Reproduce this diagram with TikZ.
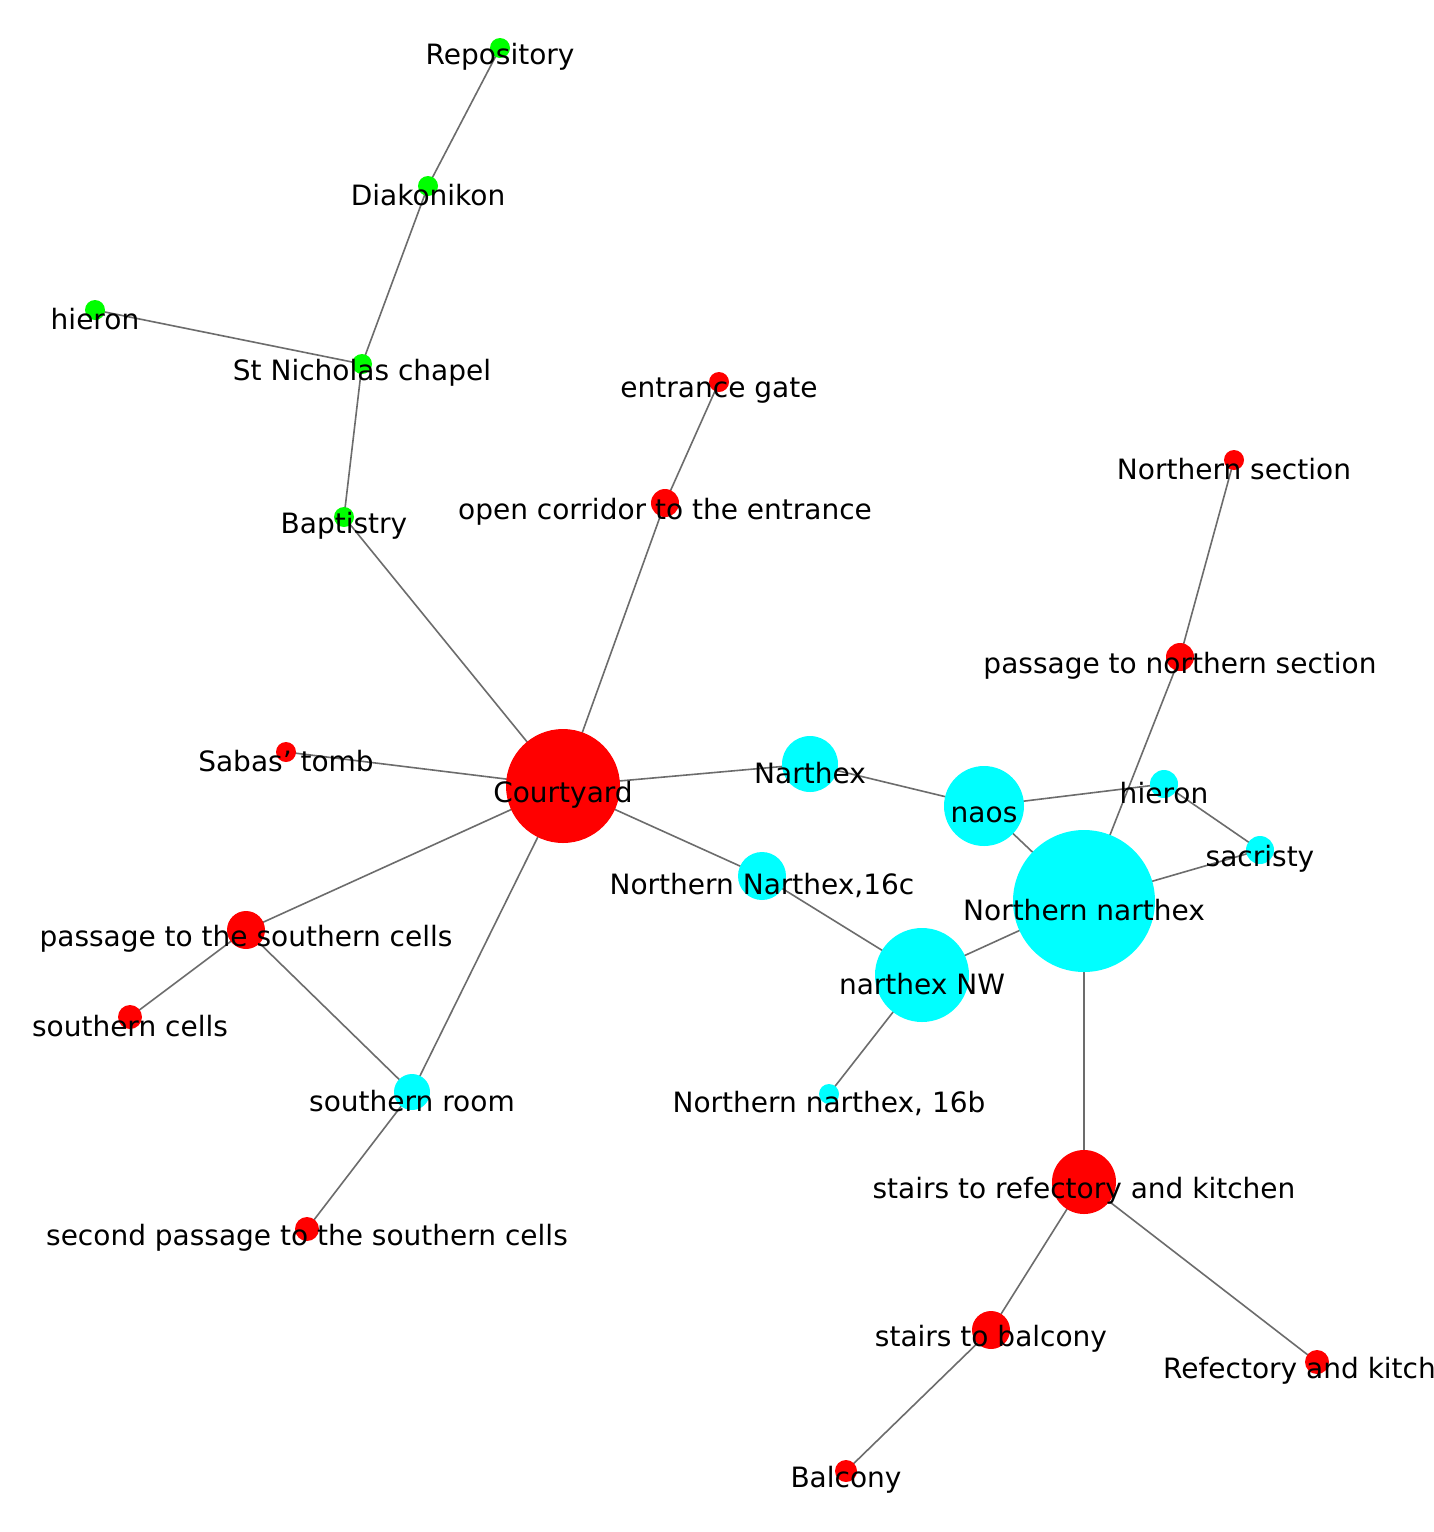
\documentclass[tikz,border=0pt]{standalone}
\usepackage{fontspec}
\setmainfont{DejaVu Sans}
\definecolor{aqua}{RGB}{0,255,255}
\definecolor{lime}{RGB}{0,255,0}
\definecolor{rr}{RGB}{255,0,0}
\begin{document}
\begin{tikzpicture}[x=1pt,y=-1pt,
  v/.style={circle,inner sep=0pt,minimum size=#1},
  red/.style={fill=rr},cy/.style={fill=aqua},gr/.style={fill=lime},
  e/.style={draw=gray!85!black,line width=1.6pt},
  lab/.style={font=\fontsize{28}{30}\selectfont,text=black,inner sep=0pt}]
\clip (0,0) rectangle (1433,1532);
\useasboundingbox (0,0) rectangle (1433,1532);
\fill[white] (0,0) rectangle (1433,1532);
\foreach \n/\x/\y in {
rep/500/48, dia/428/186, hig/95/310, stn/362/364, bap/344/517,
ent/719/382, cor/665/503, nsec/1234/460, pns/1180/657,
sab/286/752, cou/563/786, nar/810/764, naos/984/806,
hic/1164/784, sac/1260/850, nn/1084/901, n16c/762/876,
nw/922/975, n16b/829/1094, pss/246/930, sc/130/1017,
sr/412/1092, sp/307/1229, stk/1084/1182, stb/991/1330,
ref/1317/1362, bal/846/1471}
  \coordinate (\n) at (\x,\y);
\foreach \a/\b in {rep/dia,dia/stn,hig/stn,stn/bap,bap/cou,ent/cor,cor/cou,sab/cou,cou/nar,cou/n16c,cou/pss,cou/sr,pss/sc,pss/sr,sr/sp,nar/naos,naos/hic,naos/nn,hic/sac,sac/nn,n16c/nw,nw/nn,nw/n16b,nn/pns,pns/nsec,nn/stk,stk/stb,stk/ref,stb/bal}
  \draw[e] (\a) -- (\b);
\foreach \n/\d/\c in {rep/20/gr,dia/20/gr,hig/20/gr,stn/20/gr,bap/20/gr,ent/20/red,cor/28/red,nsec/20/red,pns/28/red,sab/20/red,cou/114/red,nar/56/cy,naos/80/cy,hic/28/cy,sac/28/cy,nn/142/cy,n16c/48/cy,nw/94/cy,n16b/20/cy,pss/38/red,sc/24/red,sr/36/cy,sp/24/red,stk/64/red,stb/38/red,ref/24/red,bal/22/red}
  \node[v=\d pt,\c] (\n c) at (\n) {};
\foreach \n/\t in {rep/Repository,dia/Diakonikon,hig/hieron,stn/St Nicholas chapel,bap/Baptistry,ent/entrance gate,cor/open corridor to the entrance,nsec/Northern section,pns/passage to northern section,sab/Sabas' tomb,cou/Courtyard,nar/Narthex,naos/naos,hic/hieron,sac/sacristy,nn/Northern narthex,n16c/{Northern Narthex,16c},nw/narthex NW,n16b/{Northern narthex, 16b},pss/passage to the southern cells,sc/southern cells,sr/southern room,sp/second passage to the southern cells,stk/stairs to refectory and kitchen,stb/stairs to balcony,ref/Refectory and kitchen,bal/Balcony}
  \node[lab] (\n l) at ([yshift=-9pt]\n) {\t};
\end{tikzpicture}
\end{document}
